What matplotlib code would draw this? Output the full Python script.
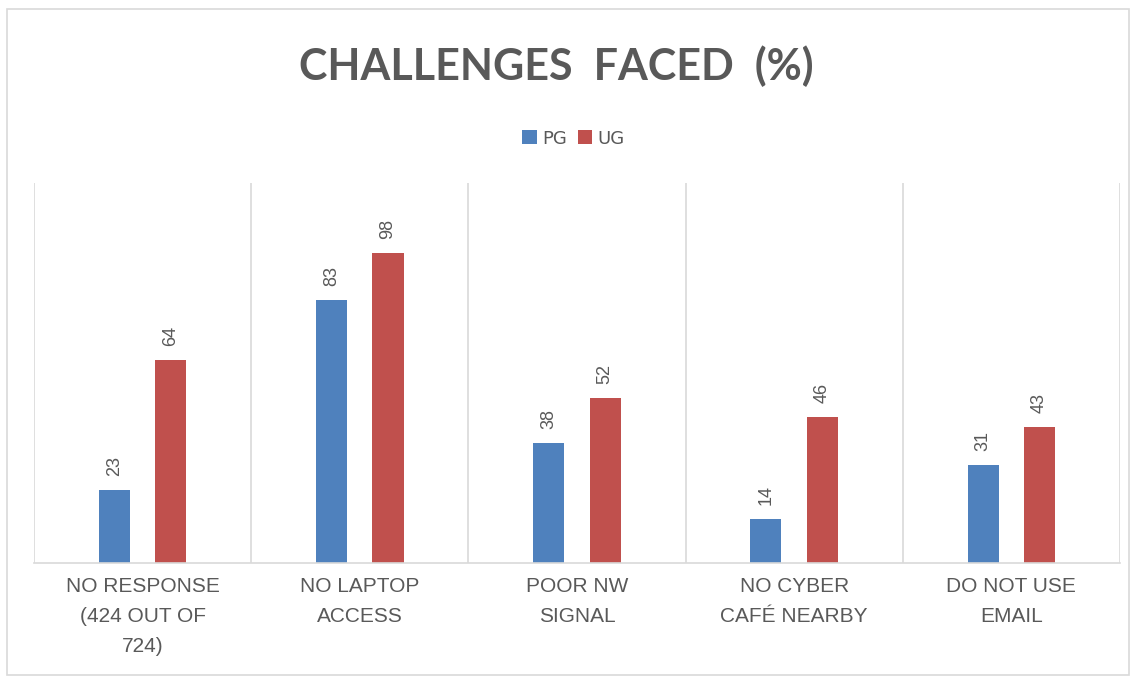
import matplotlib
matplotlib.use("Agg")
import matplotlib.pyplot as plt
import numpy as np
from matplotlib.patches import Rectangle

categories = ["NO RESPONSE\n(424 OUT OF\n724)", "NO LAPTOP\nACCESS", "POOR NW\nSIGNAL",
              "NO CYBER\nCAFÉ NEARBY", "DO NOT USE\nEMAIL"]
pg = [23, 83, 38, 14, 31]
ug = [64, 98, 52, 46, 43]
series_names = ["PG", "UG"]

blue = "#4F81BD"
red = "#C0504D"
text_gray = "#595959"
grid_gray = "#D9D9D9"

fig = plt.figure(figsize=(11.36, 6.83), dpi=100)
fig.patch.set_facecolor("white")
ax = fig.add_axes([0.0299, 0.1757, 0.956, 0.5564])

x = np.arange(len(categories))
w = 0.143
off = 0.13
b1 = ax.bar(x - off, pg, w, color=blue, label=series_names[0])
b2 = ax.bar(x + off, ug, w, color=red, label=series_names[1])

for bars, vals in ((b1, pg), (b2, ug)):
    for rect, v in zip(bars, vals):
        ax.annotate(str(v), (rect.get_x() + rect.get_width() / 2, v),
                    xytext=(0, 10), textcoords="offset points",
                    rotation=90, ha="center", va="bottom",
                    fontsize=13, color=text_gray, family="Liberation Sans")

ax.set_xlim(-0.5, len(categories) - 0.5)
ax.set_ylim(0, 120)
ax.set_yticks([])
ax.set_xticks(x)
ax.set_xticklabels(categories, fontsize=15, color=text_gray, linespacing=1.75,
                   family="Liberation Sans")
ax.tick_params(axis="x", length=0, pad=10)

# category separators
for xv in np.arange(-0.5, len(categories) + 0.5, 1.0):
    ax.axvline(xv, color=grid_gray, lw=1.2, zorder=0)

for s in ("top", "right", "left"):
    ax.spines[s].set_visible(False)
ax.spines["bottom"].set_color(grid_gray)
ax.spines["bottom"].set_linewidth(1.2)

fig.text(0.49, 0.903, "CHALLENGES  FACED  (%)", ha="center", va="center",
         fontsize=31, fontweight="bold", color=text_gray, family="Lato")

fig.legend(handles=[b1, b2], labels=series_names, loc="center",
           bbox_to_anchor=(0.505, 0.797), ncol=2, frameon=False,
           fontsize=13, handlelength=0.8, handleheight=0.8,
           handletextpad=0.3, columnspacing=0.6, labelcolor=text_gray)

fig.add_artist(Rectangle((0.006, 0.012), 0.988, 0.975, transform=fig.transFigure,
                         fill=False, edgecolor=grid_gray, lw=1.2))

fig.savefig("out.png", dpi=100, facecolor="white")
